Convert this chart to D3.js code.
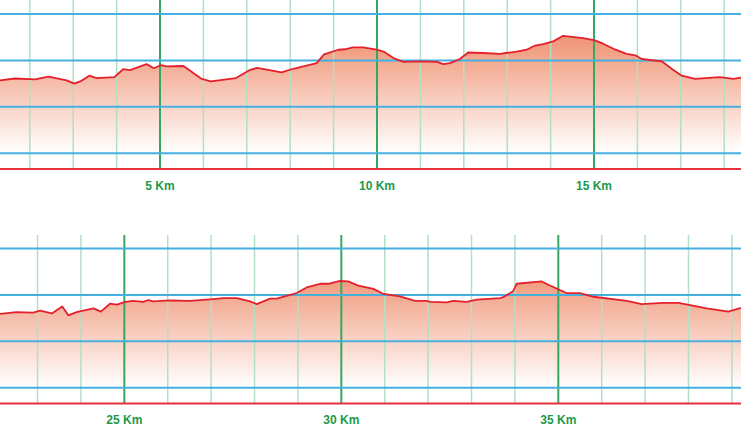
<!DOCTYPE html>
<html>
<head>
<meta charset="utf-8">
<script src="https://cdn.jsdelivr.net/npm/d3@7"></script>
<style>
  html, body { margin: 0; padding: 0; background: #ffffff; }
  svg { display: block; }
</style>
</head>
<body>
<svg id="chart" width="741" height="430"></svg>
<script>
// ---- data (distance in km, elevation in m) ----
const distanceKm = [
  1.31, 1.66, 2.12, 2.43, 2.85, 3.02, 3.19, 3.37, 3.54, 3.95, 4.15, 4.31, 4.69, 4.86, 5.02, 5.15, 5.54, 5.96, 6.17, 6.75,
  7.06, 7.24, 7.80, 8.07, 8.61, 8.78, 9.11, 9.26, 9.45, 9.68, 9.99, 10.15, 10.38, 10.61, 10.99, 11.38, 11.53, 11.68, 11.91, 12.10,
  12.45, 12.83, 13.22, 13.45, 13.64, 13.83, 14.06, 14.29, 14.75, 15.02, 15.21, 15.45, 15.75, 15.95, 16.10, 16.56, 16.79, 17.02, 17.33, 17.90,
  18.21, 18.39,
  22.13, 22.52, 22.90, 23.06, 23.33, 23.57, 23.71, 23.90, 24.29, 24.46, 24.67, 24.83, 25.02, 25.21, 25.44, 25.55, 25.67, 26.05, 26.51, 27.05,
  27.28, 27.59, 27.90, 28.05, 28.36, 28.51, 28.97, 29.20, 29.51, 29.70, 29.97, 30.16, 30.39, 30.74, 30.97, 31.35, 31.70, 31.97, 32.04, 32.43,
  32.58, 32.89, 33.12, 33.66, 33.73, 33.96, 34.04, 34.62, 34.77, 35.19, 35.50, 35.81, 36.58, 36.92, 37.42, 37.77, 38.42, 38.92, 39.21
];
const elevationM = [
  357, 361, 359, 365, 357, 350, 356, 367, 362, 364, 381, 379, 392, 383, 390, 387, 388, 360, 355, 362,
  379, 384, 374, 382, 394, 413, 423, 424, 428, 428, 423, 419, 405, 397, 398, 397, 392, 394, 403, 417,
  416, 414, 419, 423, 432, 435, 441, 453, 448, 443, 436, 425, 414, 411, 403, 398, 382, 367, 360, 364,
  360, 363,
  359, 363, 362, 366, 360, 375, 356, 363, 371, 364, 381, 379, 385, 387, 385, 389, 386, 388, 387, 391,
  393, 393, 386, 380, 392, 392, 404, 416, 424, 424, 430, 429, 420, 413, 402, 397, 387, 387, 385, 384,
  387, 385, 390, 393, 395, 408, 424, 429, 422, 404, 404, 396, 387, 380, 383, 383, 371, 364, 372
];
// panel ranges (km)
const panelStartKm = [1.313, 22.135];
const panelEndKm = [18.387, 39.21];
// elevation gridlines (m)
const elevationTicks = [200, 300, 400, 500];
const baseElevation = 166;
// label suffix
const kmLabelSuffix = " Km";

// ---- layout ----
const W = 741;
const panelTop = [0, 235];        // top of vertical lines
const panelBase = [169, 403.5];   // red baseline y
const panelGridTop = [14, 248.5]; // y of the 500 m line
const labelY = [189.5, 423.5];

const svg = d3.select("#chart");
const defs = svg.append("defs");

const points = distanceKm.map((d, i) => ({ km: d, e: elevationM[i] }));

panelStartKm.forEach((startKm, p) => {
  const endKm = panelEndKm[p];
  const x = d3.scaleLinear().domain([startKm, endKm]).range([0, W]);
  const y = d3.scaleLinear().domain([baseElevation, 500]).range([panelBase[p], panelGridTop[p]]);

  const data = points.filter(d => d.km >= startKm - 0.5 && d.km <= endKm + 0.5);

  // clip
  const cid = "clip" + p;
  defs.append("clipPath").attr("id", cid).append("rect")
    .attr("x", 0).attr("y", panelTop[p]).attr("width", W).attr("height", panelBase[p] - panelTop[p] + 2);

  // gradient
  const gid = "grad" + p;
  const g = defs.append("linearGradient")
    .attr("id", gid).attr("gradientUnits", "userSpaceOnUse")
    .attr("x1", 0).attr("x2", 0)
    .attr("y1", panelGridTop[p] - 14)
    .attr("y2", panelBase[p] - 16);
  g.append("stop").attr("offset", 0).attr("stop-color", "#eb7a58");
  g.append("stop").attr("offset", 0.35).attr("stop-color", "#f2a287");
  g.append("stop").attr("offset", 1).attr("stop-color", "#ffffff");

  const layer = svg.append("g");
  const clipped = layer.append("g").attr("clip-path", `url(#${cid})`);

  // area
  const area = d3.area().x(d => x(d.km)).y0(y(baseElevation)).y1(d => y(d.e));
  clipped.append("path").datum(data).attr("d", area).attr("fill", `url(#${gid})`);

  // vertical km lines
  const kms = d3.range(Math.ceil(startKm), Math.floor(endKm) + 1);
  layer.selectAll(".vminor").data(kms.filter(k => k % 5 !== 0)).enter().append("line")
    .attr("x1", d => x(d)).attr("x2", d => x(d))
    .attr("y1", panelTop[p]).attr("y2", panelBase[p])
    .attr("stroke", "#b2e0c2").attr("stroke-width", 1.5);
  layer.selectAll(".vmajor").data(kms.filter(k => k % 5 === 0)).enter().append("line")
    .attr("x1", d => x(d)).attr("x2", d => x(d))
    .attr("y1", panelTop[p]).attr("y2", panelBase[p])
    .attr("stroke", "#34a860").attr("stroke-width", 2);

  // horizontal elevation lines
  layer.selectAll(".h").data(elevationTicks).enter().append("line")
    .attr("x1", 0).attr("x2", W)
    .attr("y1", d => y(d)).attr("y2", d => y(d))
    .attr("stroke", "#45b0e0").attr("stroke-width", 2);

  // baseline
  layer.append("line")
    .attr("x1", 0).attr("x2", W)
    .attr("y1", y(baseElevation)).attr("y2", y(baseElevation))
    .attr("stroke", "#e8313c").attr("stroke-width", 2);

  // profile line
  const line = d3.line().x(d => x(d.km)).y(d => y(d.e));
  layer.append("g").attr("clip-path", `url(#${cid})`)
    .append("path").datum(data).attr("d", line)
    .attr("fill", "none").attr("stroke", "#e4202c").attr("stroke-width", 1.8)
    .attr("stroke-linejoin", "round");

  // labels
  layer.selectAll(".lbl").data(kms.filter(k => k % 5 === 0)).enter().append("text")
    .attr("x", d => x(d)).attr("y", labelY[p])
    .attr("text-anchor", "middle")
    .attr("font-family", "'Liberation Sans', Arial, sans-serif")
    .attr("font-weight", "bold").attr("font-size", 12)
    .attr("fill", "#1c9a4a")
    .text(d => d + kmLabelSuffix);
});
</script>
</body>
</html>
